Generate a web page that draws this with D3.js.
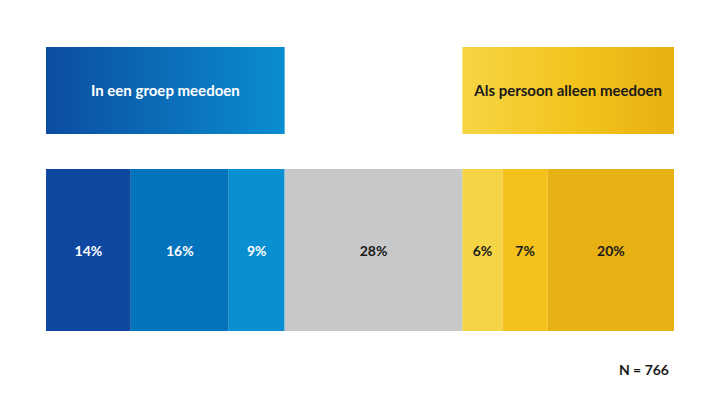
<!DOCTYPE html>
<html>
<head>
<meta charset="utf-8">
<script src="https://cdn.jsdelivr.net/npm/d3@7"></script>
<style>
  body { margin: 0; background: #fff; }
  svg { display: block; font-family: Lato, "Open Sans", sans-serif; }
</style>
</head>
<body>
<svg id="chart" width="720" height="405"></svg>
<script>
// share of respondents per answer (widths, labels rounded)
var categories = ["g1", "g2", "g3", "neutraal", "a1", "a2", "a3"];
var values = [13.5, 15.6, 8.9, 28.3, 6.4, 7.2, 20.1];
var colors = ["#0e48a0", "#0374bc", "#0a8fd3", "#c7c8ca", "#f5d445", "#f4c21b", "#e8b113"];
var textColors = ["#fff", "#fff", "#fff", "#1a1a1a", "#1a1a1a", "#1a1a1a", "#1a1a1a"];

var groupLabels = ["In een groep meedoen", "Als persoon alleen meedoen"];
var groupRanges = [[0, 3], [4, 7]]; // segment index ranges
var nLabel = "N = 766";

var svg = d3.select("#chart");

var total = d3.sum(values);
var x = d3.scaleLinear().domain([0, total]).range([46, 674]);

var stacked = [];
var acc = 0;
values.forEach(function(v, i) {
    stacked.push({cat: categories[i], v: v, x0: acc, x1: acc + v, i: i});
    acc += v;
});

// gradients for the header boxes
var defs = svg.append("defs");
var gBlue = defs.append("linearGradient").attr("id", "gradBlue");
gBlue.append("stop").attr("offset", "0%").attr("stop-color", "#0c4da0");
gBlue.append("stop").attr("offset", "100%").attr("stop-color", "#0a8dd1");
var gYellow = defs.append("linearGradient").attr("id", "gradYellow");
gYellow.append("stop").attr("offset", "0%").attr("stop-color", "#f6d545");
gYellow.append("stop").attr("offset", "55%").attr("stop-color", "#f3c31c");
gYellow.append("stop").attr("offset", "100%").attr("stop-color", "#e8b012");

var fills = ["url(#gradBlue)", "url(#gradYellow)"];
var headTextColors = ["#fff", "#1a1a1a"];

function groupX0(i) { return x(stacked[groupRanges[i][0]].x0); }
function groupX1(i) { return x(stacked[groupRanges[i][1] - 1].x1); }

var heads = svg.selectAll("g.head").data(groupLabels).enter().append("g").attr("class", "head");
heads.append("rect")
    .attr("x", function(d, i) { return groupX0(i); })
    .attr("width", function(d, i) { return groupX1(i) - groupX0(i); })
    .attr("y", 47)
    .attr("height", 87)
    .attr("fill", function(d, i) { return fills[i]; });
heads.append("text")
    .attr("x", function(d, i) { return (groupX0(i) + groupX1(i)) / 2; })
    .attr("y", 91)
    .attr("dy", "0.35em")
    .attr("text-anchor", "middle")
    .attr("font-size", 15)
    .attr("font-weight", "bold")
    .attr("fill", function(d, i) { return headTextColors[i]; })
    .text(function(d) { return d; });

// the stacked bar
var segs = svg.selectAll("g.seg").data(stacked).enter().append("g").attr("class", "seg");
segs.append("rect")
    .attr("x", function(d) { return x(d.x0); })
    .attr("width", function(d) { return x(d.x1) - x(d.x0); })
    .attr("y", 169)
    .attr("height", 162)
    .attr("fill", function(d) { return colors[d.i]; });
segs.append("text")
    .attr("x", function(d) { return (x(d.x0) + x(d.x1)) / 2; })
    .attr("y", 251)
    .attr("dy", "0.35em")
    .attr("text-anchor", "middle")
    .attr("font-size", 14)
    .attr("font-weight", "bold")
    .attr("fill", function(d) { return textColors[d.i]; })
    .text(function(d) { return Math.round(d.v) + "%"; });

svg.append("text")
    .attr("x", 669)
    .attr("y", 370)
    .attr("dy", "0.35em")
    .attr("text-anchor", "end")
    .attr("font-size", 14)
    .attr("font-weight", "bold")
    .attr("fill", "#1a1a1a")
    .text(nLabel);
</script>
</body>
</html>
